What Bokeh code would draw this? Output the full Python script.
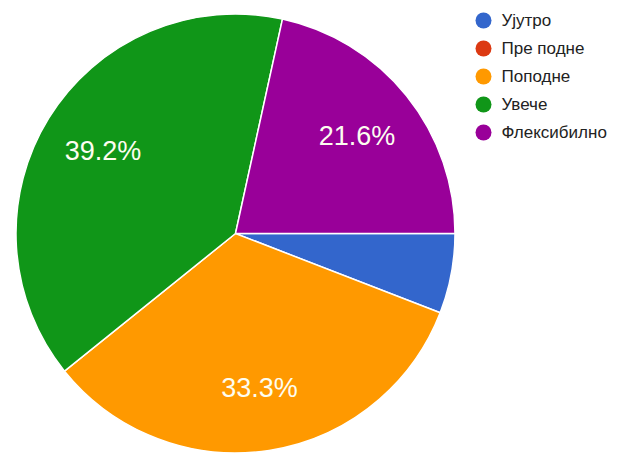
import math
from bokeh.plotting import figure
from bokeh.models import Range1d, ColumnDataSource
from bokeh.core.properties import value
from bokeh.embed import file_html
from bokeh.resources import INLINE

categories = ["Ујутро", "Пре подне", "Поподне", "Увече", "Флексибилно"]
counts = [3, 0, 17, 20, 11]
colors = ["#3366cc", "#dc3912", "#ff9900", "#109618", "#990099"]

W, H = 620, 454
cx, cy, r = 235, -233, 219.5

p = figure(width=W, height=H, output_backend="svg", toolbar_location=None,
           x_range=Range1d(0, W), y_range=Range1d(-H, 0),
           min_border=0)
p.axis.visible = False
p.grid.visible = False
p.outline_line_color = None
p.background_fill_color = "white"
p.border_fill_color = "white"

total = sum(counts)
starts, ends, wcolors, lx, ly, labels = [], [], [], [], [], []
cum = 0.0
for c, col in zip(counts, colors):
    a0 = cum / total * 2 * math.pi
    cum += c
    a1 = cum / total * 2 * math.pi
    if c > 0:
        starts.append(-a1)
        ends.append(-a0)
        wcolors.append(col)
    mid = -(a0 + a1) / 2
    pct = c / total * 100
    if pct > 10:
        lx.append(cx + 0.71 * r * math.cos(mid))
        ly.append(cy + 0.71 * r * math.sin(mid))
        labels.append(f"{pct:.1f}%")

src = ColumnDataSource(dict(start=starts, end=ends, color=wcolors))
p.wedge(x=cx, y=cy, radius=r, start_angle="start", end_angle="end",
        direction="anticlock", fill_color="color", line_color="white",
        line_width=1.5, source=src)

p.text(x=lx, y=ly, text=labels, text_color="#fdfdf0",
       text_font=value("Liberation Sans"), text_font_size="27px",
       text_align="center", text_baseline="middle")

# legend
leg_x = [483] * len(categories)
leg_y = [-(20 + 28 * i) for i in range(len(categories))]
p.scatter(x=leg_x, y=leg_y, size=16, marker="circle", fill_color=colors,
          line_color=None)
p.text(x=[501] * len(categories), y=leg_y, text=categories,
       text_color="#222222", text_font=value("Liberation Sans"),
       text_font_size="17px", text_baseline="middle")

open("out.html", "w").write(file_html(p, INLINE))
